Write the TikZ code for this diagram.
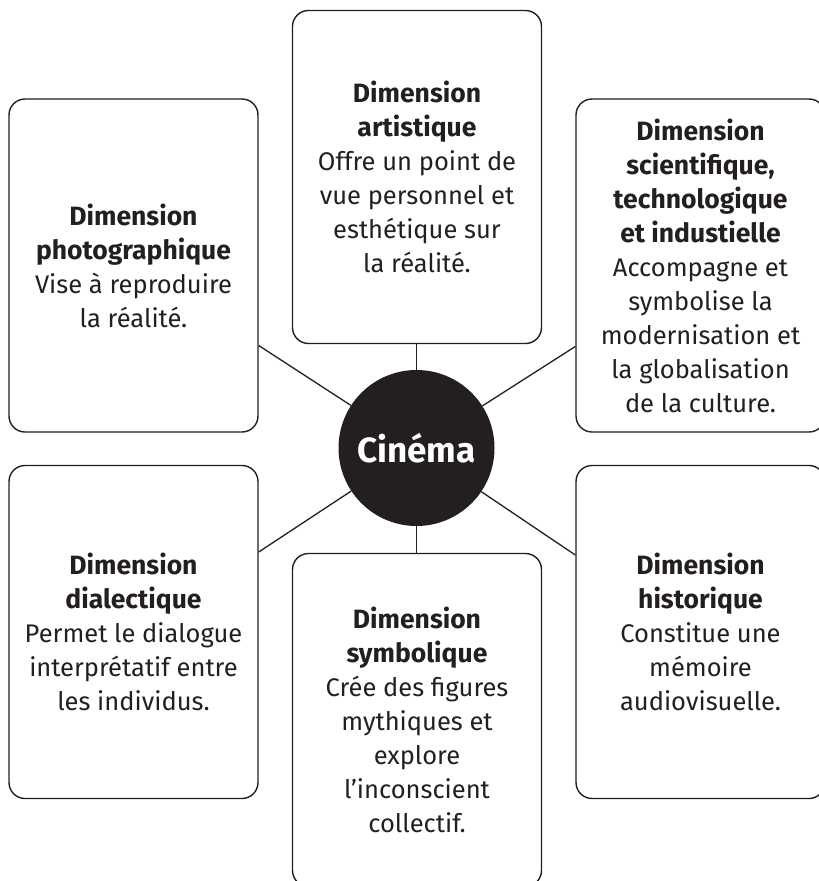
\documentclass[tikz,border=0pt]{standalone}
\usepackage{fontspec}
\setmainfont{Fira Sans}
\usepackage{xcolor}

\definecolor{ink}{HTML}{231F20}
\newcommand{\dimhead}[1]{{\bfseries\fontsize{26.5}{34}\selectfont #1}}
\tikzset{
    dimbox/.style={draw=ink, line width=1.4pt, rounded corners=16pt,
        minimum width=249pt, minimum height=333pt, inner sep=0pt,
        align=center, text=ink, font=\fontsize{25.5}{34}\selectfont},
    hub/.style={circle, fill=ink, minimum size=156pt, inner sep=0pt,
        text=white, font=\bfseries\fontsize{35}{40}\selectfont},
    spoke/.style={draw=ink, line width=1.3pt}
}

\begin{document}
\begin{tikzpicture}[x=1pt, y=-1pt]
        \useasboundingbox (0, 0) rectangle (819, 881);

        % Centre
        \node[hub] (cinema) at (416.5, 448) {Cinéma};

        % Top row
        \node[dimbox] (photo) at (133.5, 265.5) {\dimhead{Dimension}\\\dimhead{photographique}\\Vise à reproduire\\la réalité.};
        \node[dimbox] (art) at (417, 177) {\dimhead{Dimension}\\\dimhead{artistique}\\Offre un point de\\vue personnel et\\esthétique sur\\la réalité.};
        \node[dimbox] (sci) at (700.5, 265.5) {\dimhead{Dimension}\\\dimhead{scientifique,}\\\dimhead{technologique}\\\dimhead{et industielle}\\Accompagne et\\symbolise la\\modernisation et\\la globalisation\\de la culture.};

        % Bottom row
        \node[dimbox] (dial) at (133.5, 632) {\dimhead{Dimension}\\\dimhead{dialectique}\\Permet le dialogue\\interprétatif entre\\les individus.};
        \node[dimbox] (sym) at (417, 720) {\dimhead{Dimension}\\\dimhead{symbolique}\\Crée des figures\\mythiques et\\explore\\l’inconscient\\collectif.};
        \node[dimbox] (hist) at (700.5, 632) {\dimhead{Dimension}\\\dimhead{historique}\\Constitue une\\mémoire\\audiovisuelle.};

        % Spokes
        \draw[spoke] (cinema) -- (art.south -| cinema);
        \draw[spoke] (cinema) -- (sym.north -| cinema);
        \draw[spoke] (cinema) -- ([yshift=-80pt]photo.east);
        \draw[spoke] (cinema) -- ([yshift=-81pt]sci.west);
        \draw[spoke] (cinema) -- ([yshift=80pt]dial.east);
        \draw[spoke] (cinema) -- ([yshift=77pt]hist.west);
    \end{tikzpicture}
\end{document}
